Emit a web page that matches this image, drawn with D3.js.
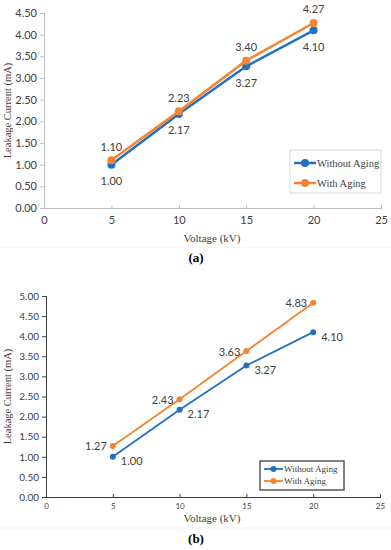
<!DOCTYPE html>
<html>
<head>
<meta charset="utf-8">
<script src="https://cdn.jsdelivr.net/npm/d3@7"></script>
<style>
  body { margin: 0; background: #fff; }
  svg { display: block; }
</style>
</head>
<body>
<svg id="chart" width="391" height="550"></svg>
<script>
// values
const voltage = [5, 10, 15, 20];
const withoutAgingA = [1.00, 2.17, 3.27, 4.10];
const withAgingA = [1.10, 2.23, 3.40, 4.27];
const withoutAgingB = [1.00, 2.17, 3.27, 4.10];
const withAgingB = [1.27, 2.43, 3.63, 4.83];
const xTicks = [0, 5, 10, 15, 20, 25];
const yTicksA = d3.range(0, 4.51, 0.5);
const yTicksB = d3.range(0, 5.01, 0.5);
const seriesNames = ['Without Aging', 'With Aging'];

const BLUE = '#2170c4';
const ORANGE = '#f28533';
const SANS = 'Lato, "Open Sans", sans-serif';
const SERIF = '"Liberation Serif", "DejaVu Serif", serif';

const svg = d3.select('#chart');

function drawPanel(p) {
    let g = svg.append('g');
    let x = d3.scaleLinear().domain([0, 25]).range([p.left, p.right]);
    let y = d3.scaleLinear().domain([0, p.yMax]).range([p.bottom, p.top]);

    // y axis
    let yAxis = g.append('g')
        .attr('transform', 'translate(' + p.left + ',0)')
        .call(d3.axisLeft(y).tickValues(p.yTicks).tickSize(4).tickFormat(d3.format('.2f')));
    yAxis.select('.domain').attr('stroke', p.axisColor).attr('stroke-width', p.axisWidth);
    yAxis.selectAll('.tick line').attr('stroke', p.axisColor);
    yAxis.selectAll('.tick text')
        .attr('font-family', SANS).attr('font-size', p.yTickSize).attr('fill', '#404040').attr('x', -7);

    // x axis, ticks pointing up
    let xAxis = g.append('g')
        .attr('transform', 'translate(0,' + p.bottom + ')')
        .call(d3.axisBottom(x).tickValues(xTicks).tickSizeInner(-3).tickSizeOuter(0).tickPadding(p.xTickPad));
    xAxis.select('.domain').attr('stroke', p.axisColor).attr('stroke-width', p.axisWidth);
    xAxis.selectAll('.tick line').attr('stroke', p.axisColor);
    xAxis.selectAll('.tick text')
        .attr('font-family', SANS).attr('font-size', p.xTickSize).attr('fill', '#404040');
    g.selectAll('.domain').attr('shape-rendering', 'crispEdges');

    // titles
    g.append('text')
        .attr('transform', 'translate(' + p.yTitleX + ',' + (p.top + p.bottom) / 2 + ') rotate(-90)')
        .attr('text-anchor', 'middle')
        .attr('font-family', SERIF).attr('font-size', 10.5).attr('fill', '#404040')
        .text('Leakage Current (mA)');
    g.append('text')
        .attr('x', 212).attr('y', p.xTitleY)
        .attr('text-anchor', 'middle')
        .attr('font-family', SERIF).attr('font-size', 11).attr('fill', '#404040')
        .text('Voltage (kV)');

    // series
    let line = d3.line().x(function(d) { return x(d[0]); }).y(function(d) { return y(d[1]); });
    p.series.forEach(function(s) {
        let pts = voltage.map(function(v, i) { return [v, s.values[i]]; });
        g.append('path')
            .datum(pts)
            .attr('d', line)
            .attr('fill', 'none')
            .attr('stroke', s.color)
            .attr('stroke-width', p.lineWidth);
        g.selectAll(null)
            .data(pts)
            .enter()
            .append('circle')
            .attr('cx', function(d) { return x(d[0]); })
            .attr('cy', function(d) { return y(d[1]); })
            .attr('r', p.markerR)
            .attr('fill', s.color);
        g.selectAll(null)
            .data(pts)
            .enter()
            .append('text')
            .attr('x', function(d) { return x(d[0]) + s.labelDx; })
            .attr('y', function(d) { return y(d[1]) + s.labelDy; })
            .attr('text-anchor', s.anchor)
            .attr('dominant-baseline', 'central')
            .attr('font-family', SANS).attr('font-size', 11).attr('fill', '#404040')
            .text(function(d) { return d3.format('.2f')(d[1]); });
    });

    // legend
    let lg = g.append('g');
    lg.append('rect')
        .attr('x', p.legend.x).attr('y', p.legend.y)
        .attr('width', p.legend.w).attr('height', p.legend.h)
        .attr('fill', '#fff')
        .attr('stroke', p.legend.stroke).attr('stroke-width', p.legend.strokeWidth);
    p.series.forEach(function(s, i) {
        let ly = p.legend.y + p.legend.rowStart + i * p.legend.rowGap;
        let lx = p.legend.x + 4;
        lg.append('line')
            .attr('x1', lx).attr('x2', lx + p.legend.lineLen)
            .attr('y1', ly).attr('y2', ly)
            .attr('stroke', s.color).attr('stroke-width', p.lineWidth);
        lg.append('circle')
            .attr('cx', lx + p.legend.lineLen / 2).attr('cy', ly)
            .attr('r', p.markerR).attr('fill', s.color);
        lg.append('text')
            .attr('x', lx + p.legend.lineLen + 1).attr('y', ly)
            .attr('dominant-baseline', 'central')
            .attr('font-family', SERIF).attr('font-size', p.legend.fontSize).attr('fill', '#404040')
            .text(seriesNames[i]);
    });

    // caption
    g.append('text')
        .attr('x', 196).attr('y', p.captionY)
        .attr('text-anchor', 'middle')
        .attr('font-family', SERIF).attr('font-size', 13).attr('font-weight', 'bold').attr('fill', '#000')
        .text(p.caption);
    g.append('line')
        .attr('x1', 0).attr('x2', 391)
        .attr('y1', p.sepY).attr('y2', p.sepY)
        .attr('stroke', '#f2f2f2');
}

drawPanel({
    left: 44, right: 381, top: 13, bottom: 208, yMax: 4.5, yTicks: yTicksA,
    axisColor: '#bfbfbf', axisWidth: 1, yTickSize: 11, xTickSize: 11, xTickPad: 8,
    yTitleX: 11, xTitleY: 242, lineWidth: 2.5, markerR: 4,
    series: [
        {values: withoutAgingA, color: BLUE, labelDx: 0, labelDy: 16, anchor: 'middle'},
        {values: withAgingA, color: ORANGE, labelDx: 0, labelDy: -14, anchor: 'middle'}
    ],
    legend: {x: 290, y: 150, w: 91, h: 43, stroke: '#d9d9d9', strokeWidth: 1,
        rowStart: 13, rowGap: 20, lineLen: 22, fontSize: 10.5},
    caption: '(a)', captionY: 262, sepY: 247
});

drawPanel({
    left: 46, right: 380, top: 296, bottom: 497, yMax: 5, yTicks: yTicksB,
    axisColor: '#404040', axisWidth: 1.3, yTickSize: 10, xTickSize: 8, xTickPad: 6,
    yTitleX: 11, xTitleY: 522, lineWidth: 1.8, markerR: 3,
    series: [
        {values: withoutAgingB, color: BLUE, labelDx: 8, labelDy: 4, anchor: 'start'},
        {values: withAgingB, color: ORANGE, labelDx: -6, labelDy: 0, anchor: 'end'}
    ],
    legend: {x: 260, y: 461, w: 84, h: 29, stroke: '#404040', strokeWidth: 1.3,
        rowStart: 8, rowGap: 12, lineLen: 19, fontSize: 9},
    caption: '(b)', captionY: 543, sepY: 528
});
</script>
</body>
</html>
